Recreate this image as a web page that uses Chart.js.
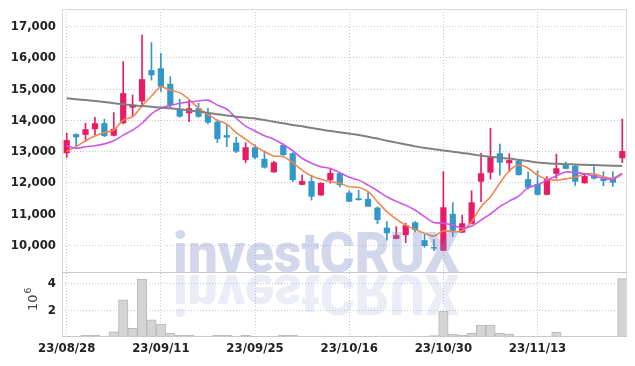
<!DOCTYPE html>
<html>
<head>
<meta charset="utf-8">
<script src="https://cdn.jsdelivr.net/npm/chart.js@4.4.1/dist/chart.umd.min.js"></script>
<style>
  html, body { margin: 0; padding: 0; background: #fff; }
</style>
</head>
<body>
<canvas id="chart" width="635" height="366"></canvas>
<script>
// trading days, 23/08/28 .. 23/11/24
var dates = [
  "23/08/28", "23/08/29", "23/08/30", "23/08/31", "23/09/01",
  "23/09/04", "23/09/05", "23/09/06", "23/09/07", "23/09/08",
  "23/09/11", "23/09/12", "23/09/13", "23/09/14", "23/09/15",
  "23/09/18", "23/09/19", "23/09/20", "23/09/21", "23/09/22",
  "23/09/25", "23/09/26", "23/09/27", "23/10/04", "23/10/05",
  "23/10/06", "23/10/10", "23/10/11", "23/10/12", "23/10/13",
  "23/10/16", "23/10/17", "23/10/18", "23/10/19", "23/10/20",
  "23/10/23", "23/10/24", "23/10/25", "23/10/26", "23/10/27",
  "23/10/30", "23/10/31", "23/11/01", "23/11/02", "23/11/03",
  "23/11/06", "23/11/07", "23/11/08", "23/11/09", "23/11/10",
  "23/11/13", "23/11/14", "23/11/15", "23/11/16", "23/11/17",
  "23/11/20", "23/11/21", "23/11/22", "23/11/23", "23/11/24"
]

var opens = [
  12950, 13560, 13540, 13720, 13910, 13510, 13910, 14410, 14610, 15610,
  15670, 15170, 14360, 14230, 14390, 14210, 13960, 13530, 13290, 12730,
  13140, 12770, 12340, 13210, 12950, 11940, 12060, 11600, 12090, 12310,
  11690, 11510, 11490, 11210, 10570, 10210, 10330, 10740, 10170, 9940,
  9830, 11010, 10410, 10690, 12040, 12330, 12950, 12630, 12710, 12120,
  11970, 11620, 12290, 12610, 12550, 11990, 12250, 12140, 12140, 12790
]
var highs = [
  13590, 13570, 13910, 14100, 14040, 14250, 15880, 14815, 16730, 16490,
  16150, 15400, 14680, 14650, 14550, 14390, 14010, 13850, 13460, 13290,
  13220, 13030, 12690, 13250, 12970, 12250, 12250, 12000, 12430, 12330,
  11750, 11770, 11690, 11240, 10760, 10600, 10710, 10760, 10390, 10190,
  12360, 11370, 10970, 11750, 12950, 13750, 13240, 12930, 12720, 12350,
  12390, 12200, 12920, 12670, 12550, 12300, 12520, 12360, 12360, 14040
]
var lows = [
  12820, 13140, 13320, 13535, 13480, 13500, 13890, 14120, 14460, 15290,
  14920, 14390, 14100, 13960, 14100, 13890, 13290, 13160, 12970, 12650,
  12780, 12470, 12340, 12880, 12040, 11940, 11450, 11600, 11990, 11870,
  11400, 11450, 11240, 10690, 10170, 10210, 10090, 10430, 9940, 9830,
  9830, 10280, 10410, 10690, 11400, 12120, 12250, 12360, 12250, 11800,
  11610, 11620, 12150, 12450, 11920, 11990, 12120, 11910, 11890, 12650
]
var closes = [
  13370, 13460, 13720, 13910, 13500, 13730, 14870, 14490, 15320, 15445,
  15080, 14490, 14120, 14390, 14120, 13930, 13400, 13450, 13000, 13140,
  12810, 12490, 12660, 12890, 12090, 12060, 11560, 12000, 12320, 11930,
  11400, 11450, 11240, 10810, 10390, 10330, 10650, 10490, 9980, 9900,
  11220, 10470, 10710, 11380, 12310, 12860, 12650, 12730, 12250, 11850,
  11620, 12120, 12470, 12450, 12040, 12220, 12140, 12060, 12010, 13020
]

// moving averages
var maShort = [
  13010, 13160, 13350, 13500, 13610, 13690, 14010, 14120, 14460, 14780,
  15070, 14970, 14890, 14670, 14390, 14190, 14010, 13880, 13610, 13400,
  13180, 13000, 12860, 12840, 12650, 12410, 12220, 12120, 12040, 11990,
  11880, 11860, 11720, 11400, 11080, 10840, 10650, 10510, 10390, 10300,
  10470, 10440, 10470, 10760, 11240, 11560, 11990, 12390, 12570, 12470,
  12250, 12120, 12090, 12130, 12180, 12290, 12290, 12200, 12150, 12310
]
var maMid = [
  13180, 13110, 13160, 13190, 13250, 13350, 13530, 13690, 13910, 14210,
  14390, 14480, 14550, 14590, 14620, 14650, 14490, 14360, 14070, 13820,
  13660, 13510, 13400, 13230, 13030, 12790, 12630, 12520, 12460, 12330,
  12180, 12090, 11930, 11750, 11560, 11410, 11290, 11130, 10920, 10730,
  10710, 10650, 10550, 10620, 10810, 11010, 11240, 11420, 11580, 11850,
  11930, 12090, 12220, 12350, 12330, 12290, 12220, 12150, 12120, 12290
]
var maLong = [
  14710, 14680, 14650, 14620, 14590, 14550, 14520, 14490, 14460, 14440,
  14410, 14390, 14360, 14320, 14280, 14240, 14200, 14160, 14120, 14090,
  14060, 14010, 13960, 13910, 13850, 13810, 13760, 13710, 13660, 13620,
  13580, 13530, 13480, 13420, 13350, 13290, 13230, 13170, 13120, 13080,
  13040, 13000, 12960, 12920, 12870, 12840, 12810, 12780, 12740, 12700,
  12650, 12630, 12610, 12600, 12590, 12580, 12570, 12560, 12550, 12545
]

// volume, in units of 10^6
var volumes = [
  0.05, 0.05, 0.12, 0.15, 0.07, 0.39, 2.8, 0.66, 4.37, 1.29,
  0.98, 0.28, 0.15, 0.15, 0.07, 0.07, 0.15, 0.15, 0.07, 0.15,
  0.07, 0.05, 0.07, 0.15, 0.15, 0.07, 0.05, 0.07, 0.05, 0.05,
  0.07, 0.05, 0.05, 0.07, 0.07, 0.07, 0.05, 0.07, 0.05, 0.1,
  1.95, 0.22, 0.13, 0.28, 0.9, 0.9, 0.28, 0.22, 0.05, 0.05,
  0.05, 0.07, 0.37, 0.05, 0.05, 0.05, 0.05, 0.05, 0.05, 4.4
]

var priceTicks = [10000, 11000, 12000, 13000, 14000, 15000, 16000, 17000]
var volumeTicks = [2, 4]
var markText = "investCRUX"

var UP = "rgb(232,28,102)"
var DOWN = "rgb(50,152,202)"
var tickFont = { family: "'DejaVu Sans Condensed', 'DejaVu Sans', sans-serif", size: 13, weight: "bold" }

var candleColors = opens.map(function (o, i) { return closes[i] >= o ? UP : DOWN })
var wickData = lows.map(function (l, i) { return [l, highs[i]] })
var bodyData = opens.map(function (o, i) { return [o, closes[i]] })

function fixY(s) {
  s.width = 62
  s.paddingTop = 0
  s.paddingBottom = 0
}

var decor = {
  id: "decor",
  afterDatasetsDraw: function (chart) {
    var ctx = chart.ctx
    var a = chart.chartArea
    var py = chart.scales.y
    var vy = chart.scales.vol

    // watermark + its reflection
    ctx.save()
    ctx.font = "900 55px Roboto, 'DejaVu Sans', sans-serif"
    var m = ctx.measureText(markText)
    var inkW = m.actualBoundingBoxLeft + m.actualBoundingBoxRight
    var sx = 284 / inkW
    ctx.translate(175, py.bottom - 0.5)
    ctx.scale(sx, 1)
    ctx.textBaseline = "alphabetic"
    ctx.fillStyle = "rgba(120,135,195,0.33)"
    ctx.fillText(markText, m.actualBoundingBoxLeft, 0)
    ctx.scale(1, -1)
    ctx.fillStyle = "rgba(120,135,195,0.15)"
    ctx.fillText(markText, m.actualBoundingBoxLeft, -3)
    ctx.restore()

    // frame and pane separator
    ctx.save()
    ctx.lineWidth = 1
    ctx.strokeStyle = "#d6d6dc"
    ctx.beginPath()
    ctx.moveTo(a.left + 0.5, vy.bottom)
    ctx.lineTo(a.left + 0.5, a.top + 0.5)
    ctx.lineTo(a.right - 0.5, a.top + 0.5)
    ctx.lineTo(a.right - 0.5, vy.bottom)
    ctx.stroke()
    ctx.strokeStyle = "#c8c8c8"
    ctx.beginPath()
    ctx.moveTo(a.left, Math.round(py.bottom) + 0.5)
    ctx.lineTo(a.right, Math.round(py.bottom) + 0.5)
    ctx.moveTo(a.left, Math.round(vy.bottom) - 0.5)
    ctx.lineTo(a.right, Math.round(vy.bottom) - 0.5)
    ctx.stroke()
    ctx.restore()
  },
  afterDraw: function (chart) {
    var ctx = chart.ctx
    ctx.save()
    ctx.translate(37, 300)
    ctx.rotate(-Math.PI / 2)
    ctx.fillStyle = "#444"
    ctx.textBaseline = "alphabetic"
    ctx.font = "13px 'DejaVu Sans', sans-serif"
    ctx.fillText("10", -11, 0)
    var w = ctx.measureText("10").width
    ctx.font = "9px 'DejaVu Sans', sans-serif"
    ctx.fillText("6", -11 + w + 1, -6)
    ctx.restore()
  }
}

new Chart(document.getElementById("chart"), {
  type: "bar",
  data: {
    labels: dates,
    datasets: [
      {
        type: "line", data: maLong, yAxisID: "y", order: 1,
        borderColor: "rgb(128,128,128)", borderWidth: 2, pointRadius: 0, tension: 0.3
      },
      {
        type: "line", data: maMid, yAxisID: "y", order: 1,
        borderColor: "rgb(205,85,235)", borderWidth: 1.6, pointRadius: 0, tension: 0.3
      },
      {
        type: "line", data: maShort, yAxisID: "y", order: 1,
        borderColor: "rgb(240,135,80)", borderWidth: 1.6, pointRadius: 0, tension: 0.3
      },
      {
        data: bodyData, yAxisID: "y", order: 2, grouped: false,
        backgroundColor: candleColors, barPercentage: 0.66, categoryPercentage: 1, minBarLength: 1.5
      },
      {
        data: wickData, yAxisID: "y", order: 3, grouped: false,
        backgroundColor: candleColors, barThickness: 1
      },
      {
        data: volumes, yAxisID: "vol", order: 4, grouped: false,
        backgroundColor: "rgb(212,212,212)", borderColor: "rgb(185,185,185)", borderWidth: 1,
        barPercentage: 1, categoryPercentage: 1
      }
    ]
  },
  options: {
    responsive: false,
    animation: false,
    devicePixelRatio: 1,
    layout: { padding: { top: 9, right: 8, left: 0, bottom: 0 } },
    plugins: { legend: { display: false }, tooltip: { enabled: false } },
    scales: {
      x: {
        offset: true,
        grid: { offset: false, color: "rgb(196,202,226)", drawTicks: false },
        border: { display: false, dash: [1, 2] },
        ticks: {
          autoSkip: false, maxRotation: 0, padding: 4, color: "#222", font: tickFont,
          callback: function (v, i) { return i % 10 === 0 ? dates[i] : null }
        },
        afterFit: function (s) { s.height = 29 }
      },
      y: {
        type: "linear", position: "left", stack: "pane", stackWeight: 263, weight: 2,
        min: 9150, max: 17565,
        grid: { color: "rgb(200,200,212)", drawTicks: false },
        border: { display: false, dash: [1, 2] },
        afterBuildTicks: function (s) { s.ticks = priceTicks.map(function (v) { return { value: v } }) },
        ticks: {
          autoSkip: false, padding: 6, color: "#222", font: tickFont,
          callback: function (v) { return Number(v).toLocaleString("en-US") }
        },
        afterFit: fixY
      },
      vol: {
        type: "linear", position: "left", stack: "pane", stackWeight: 65, weight: 1,
        min: 0, max: 4.9,
        grid: { color: "rgb(200,200,212)", drawTicks: false },
        border: { display: false, dash: [1, 2] },
        afterBuildTicks: function (s) { s.ticks = volumeTicks.map(function (v) { return { value: v } }) },
        ticks: {
          autoSkip: false, padding: 6, color: "#222", font: tickFont,
          callback: function (v) { return String(v) }
        },
        afterFit: fixY
      }
    }
  },
  plugins: [decor]
})
</script>
</body>
</html>
